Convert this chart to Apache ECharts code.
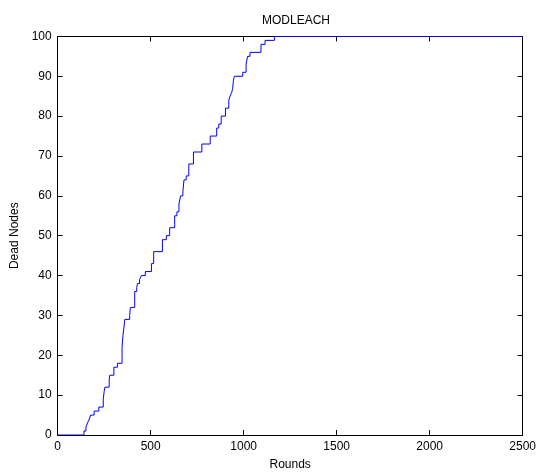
<!DOCTYPE html>
<html>
<head>
<meta charset="utf-8">
<script src="https://cdn.jsdelivr.net/npm/echarts@6/dist/echarts.min.js"></script>
<style>
html,body{margin:0;padding:0;background:#fff;}
#chart{width:539px;height:476px;}
</style>
</head>
<body>
<div id="chart"></div>
<script>
// Data: [round, dead nodes] step events
const rounds = [0,141,152,160,170,177,196,221,245,250,254,277,280,302,321,346,351,361,387,391,414,425,429,440,450,471,504,516,563,584,602,629,641,652,661,673,679,691,705,730,775,820,855,866,879,902,920,927,936,941,945,950,995,1013,1021,1034,1093,1115,1165,2500];
const deadNodes = [0,1,2,3,4,5,6,7,9,11,12,14,15,17,18,22,25,29,30,32,36,37,38,39,40,41,43,46,49,50,52,55,56,58,60,61,64,65,68,71,73,75,77,78,80,82,84,85,86,87,89,90,91,93,95,96,98,99,100,100];
const xTicks = [0,500,1000,1500,2000,2500];
const yTicks = [0,10,20,30,40,50,60,70,80,90,100];

const font = 'Liberation Sans, Arial, Helvetica, sans-serif';
const chart = echarts.init(document.getElementById('chart'));
const seriesData = rounds.map((r,i)=>[r, deadNodes[i]]);

const baseAxis = {
  axisLine:{show:true,onZero:false,lineStyle:{color:'#000',width:1}},
  axisTick:{show:true,inside:true,length:5,lineStyle:{color:'#000',width:1}},
  splitLine:{show:false}
};

chart.setOption({
  animation:false,
  backgroundColor:'#fff',
  title:{text:'MODLEACH',left:291,top:10,textAlign:'center',
    textStyle:{fontFamily:font,fontSize:12,fontWeight:'normal',color:'#000'}},
  grid:{left:57.7,right:15,top:36.4,bottom:41,containLabel:false},
  xAxis:[
    Object.assign({},baseAxis,{type:'value',min:xTicks[0],max:xTicks[xTicks.length-1],interval:500,position:'bottom',
      name:'Rounds',nameLocation:'middle',nameGap:24,
      nameTextStyle:{fontFamily:font,fontSize:12,color:'#000'},
      axisLabel:{show:true,margin:6,fontFamily:font,fontSize:12,color:'#000',formatter:v=>String(v)}}),
    Object.assign({},baseAxis,{type:'value',min:xTicks[0],max:xTicks[xTicks.length-1],interval:500,position:'top',
      axisLabel:{show:false}})
  ],
  yAxis:[
    Object.assign({},baseAxis,{type:'value',min:yTicks[0],max:yTicks[yTicks.length-1],interval:10,position:'left',
      name:'Dead Nodes',nameLocation:'middle',nameGap:35,
      nameTextStyle:{fontFamily:font,fontSize:12,color:'#000'},
      axisLabel:{show:true,margin:6,fontFamily:font,fontSize:12,color:'#000',formatter:v=>String(v)}}),
    Object.assign({},baseAxis,{type:'value',min:yTicks[0],max:yTicks[yTicks.length-1],interval:10,position:'right',
      axisLabel:{show:false}})
  ],
  series:[{
    type:'line',
    step:'end',
    data:seriesData,
    showSymbol:false,
    symbol:'none',
    lineStyle:{color:'#0000ff',width:1},
    xAxisIndex:0,yAxisIndex:0
  }]
});
</script>
</body>
</html>
